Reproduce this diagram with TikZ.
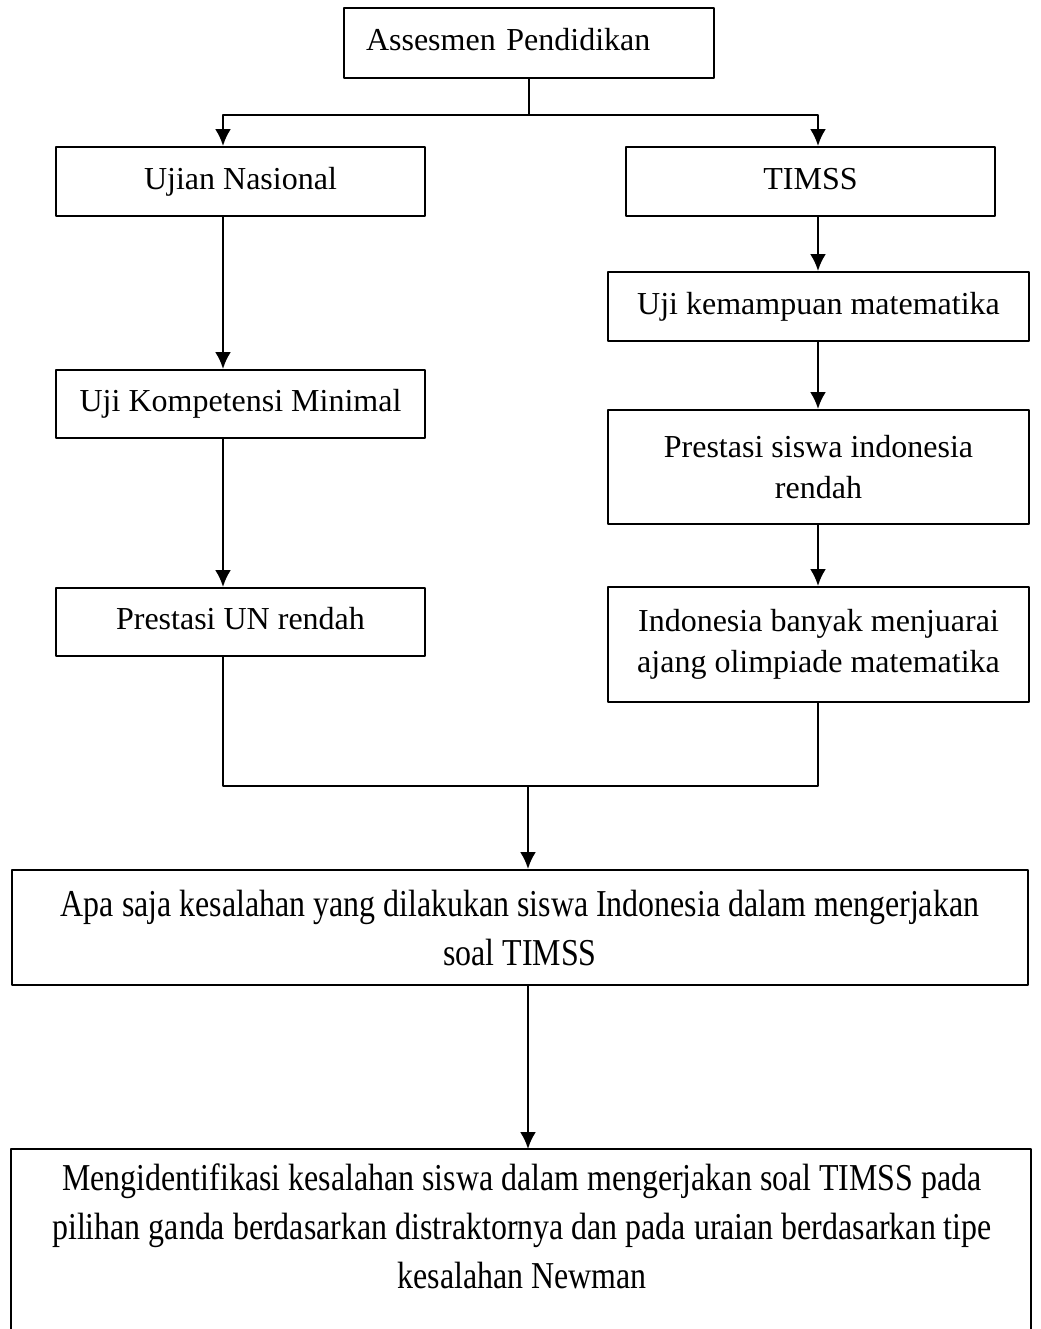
\documentclass[tikz,border=0pt]{standalone}
\usepackage{fontspec}
\setmainfont{Liberation Serif}
\newfontfamily\tallfont[FakeStretch=0.84]{Liberation Serif}
\usetikzlibrary{arrows.meta}
\tikzset{>={Latex[length=8.5pt,width=8pt]}}
\tikzset{
    box/.style={draw, line width=1pt, align=center, inner sep=0pt,
        font=\fontsize{16}{20.5}\selectfont},
    oneline/.style={box, text height=11pt, text depth=3.5pt},
    tallbox/.style={box, font=\fontsize{19}{24.5}\selectfont\tallfont},
    flow/.style={->, line width=1.2pt},
    link/.style={line width=0.9pt}
}

\begin{document}
\begin{tikzpicture}[x=0.5pt, y=-0.5pt, line join = round]
    \useasboundingbox (0,0) rectangle (1040,1329);
    \coordinate (lanel) at (223,0);
    \coordinate (laner) at (818,0);
    \coordinate (split) at (529,115);
    \coordinate (join) at (528,786);

    \node[oneline, align=left, inner xsep=11pt, text width=163pt, minimum height=35pt] (assess) at (529,43) {Assesmen Pendidikan};
    \node[oneline, minimum width=184.5pt, minimum height=34.5pt] (un) at (240.5,181.5) {Ujian Nasional};
    \node[oneline, minimum width=184.5pt, minimum height=34.5pt] (timss) at (810.5,181.5) {TIMSS};
    \node[oneline, minimum width=184.5pt, minimum height=34pt] (ukm) at (240.5,404) {Uji Kompetensi Minimal};
    \node[oneline, minimum width=184.5pt, minimum height=34pt] (prun) at (240.5,622) {Prestasi UN rendah};
    \node[oneline, minimum width=210.5pt, minimum height=34.5pt] (ukmat) at (818.5,306.5) {Uji kemampuan matematika};
    \node[box, minimum width=210.5pt, minimum height=57pt] (psir) at (818.5,467) {Prestasi siswa indonesia\\ rendah};
    \node[box, minimum width=210.5pt, minimum height=57.5pt] (ibm) at (818.5,644.5) {Indonesia banyak menjuarai\\ ajang olimpiade matematika};
    \node[tallbox, minimum width=508pt, minimum height=57.5pt] (apa) at (520,927.5)
        {Apa saja kesalahan yang dilakukan siswa Indonesia dalam mengerjakan\\ soal TIMSS};
    \node[tallbox, draw=none, minimum width=510pt, minimum height=76pt] (mengid) at (522,1226)
        {Mengidentifikasi kesalahan siswa dalam mengerjakan soal TIMSS pada\\
         pilihan ganda berdasarkan distraktornya dan pada uraian berdasarkan tipe\\
         kesalahan Newman};
    % box runs off the page at the bottom
    \draw[line width=1pt] (mengid.north west) rectangle ++(1020,250);

    \draw[link] (assess.south) -- (split);
    \draw[flow] (split) -| (un.north -| lanel);
    \draw[flow] (split) -| (timss.north -| laner);
    \draw[flow] (un.south -| lanel) -- (ukm.north -| lanel);
    \draw[flow] (ukm.south -| lanel) -- (prun.north -| lanel);
    \draw[flow] (timss.south -| laner) -- (ukmat.north -| laner);
    \draw[flow] (ukmat.south -| laner) -- (psir.north -| laner);
    \draw[flow] (psir.south -| laner) -- (ibm.north -| laner);

    \draw[link] (prun.south -| lanel) -- (lanel |- join) -- (laner |- join) -- (ibm.south -| laner);
    \draw[flow] (join) -- (apa.north -| join);
    \draw[flow] (apa.south -| join) -- (mengid.north -| join);

\end{tikzpicture}
\end{document}
